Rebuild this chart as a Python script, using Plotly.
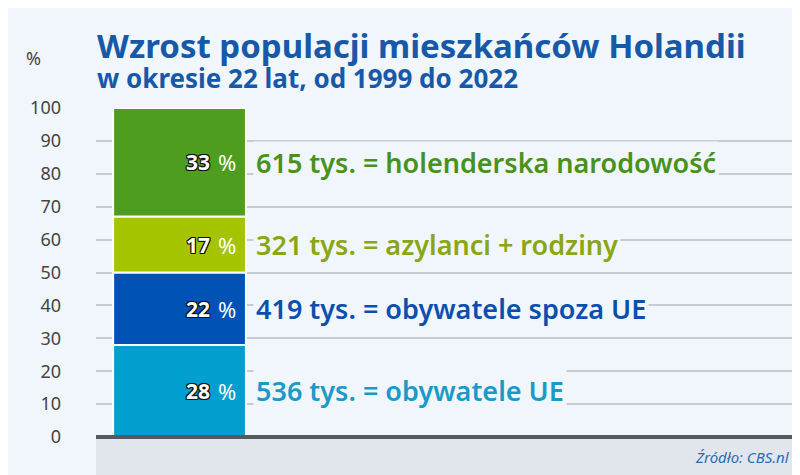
import plotly.graph_objects as go

# dane
kategorie = ["obywatele UE", "obywatele spoza UE", "azylanci + rodziny", "holenderska narodowość"]
procenty = [28, 22, 17, 33]
tysiace = [536, 419, 321, 615]
kolory = ["#009fcd", "#0053b5", "#a5c400", "#4e9d1e"]
kolory_tekstu = ["#1a9ac8", "#0a4fb0", "#8ba514", "#47921c"]
ticki = list(range(0, 101, 10))

# strona ma margines 8 px, więc figura jest o tyle mniejsza
W, H = 792, 467
L, R, T, B = 88, 5, 100, 38
plot_h = H - T - B
plot_w = W - L - R

fig = go.Figure()
dol = 0
for kat, p, kol in zip(kategorie, procenty, kolory):
    fig.add_trace(go.Bar(x=[0.1195], y=[p], base=[dol], width=[0.19], name=kat,
                         marker=dict(color=kol, line=dict(color="white", width=2)),
                         hoverinfo="skip"))
    dol += p

obrys = "1px 1px 0 #111, -1px -1px 0 #111, 1px -1px 0 #111, -1px 1px 0 #111, 0 1px 0 #111, 0 -1px 0 #111, 1px 0 0 #111, -1px 0 0 #111"
ann = []
dol = 0
for p, t, kat, kt in zip(procenty, tysiace, kategorie, kolory_tekstu):
    srodek = dol + p / 2
    ann.append(dict(x=0.166, y=srodek, text=f"<b>{p}</b>", showarrow=False, xanchor="right",
                    font=dict(family="Noto Sans", size=21, color="white", shadow=obrys)))
    ann.append(dict(x=0.172, y=srodek, text="%", showarrow=False, xanchor="left",
                    font=dict(family="Noto Sans", size=22, color="white")))
    ann.append(dict(x=0.224, y=srodek, text=f"{t} tys. = {kat}", showarrow=False, xanchor="left",
                    bgcolor="#f0f6fc", borderpad=2,
                    font=dict(family="Noto Sans", size=27, color=kt, weight=600)))
    dol += p

ann += [
    dict(xref="paper", yref="paper", x=-0.001, y=1 + 63 / plot_h, xanchor="left", yanchor="middle",
         text="<b>Wzrost populacji mieszkańców Holandii</b>", showarrow=False,
         font=dict(family="Noto Sans", size=33, color="#1759a8")),
    dict(xref="paper", yref="paper", x=-0.001, y=1 + 30 / plot_h, xanchor="left", yanchor="middle",
         text="<b>w okresie 22 lat, od 1999 do 2022</b>", showarrow=False,
         font=dict(family="Noto Sans", size=26, color="#1759a8")),
    dict(xref="paper", yref="paper", x=-63 / plot_w, y=1 + 50 / plot_h, xanchor="center", yanchor="middle",
         text="%", showarrow=False, font=dict(family="Noto Sans", size=18, color="#444")),
    dict(xref="paper", yref="paper", x=0.995, y=-20 / plot_h, xanchor="right", yanchor="middle",
         text="<i>Źródło: CBS.nl</i>", showarrow=False,
         font=dict(family="Noto Sans", size=15, color="#2a6bb5")),
]

fig.update_layout(
    width=W, height=H, margin=dict(l=L, r=R, t=T, b=B),
    paper_bgcolor="#f0f6fc", plot_bgcolor="#f0f6fc",
    barmode="overlay", showlegend=False, annotations=ann,
    xaxis=dict(range=[0, 1], visible=False, fixedrange=True),
    yaxis=dict(range=[0, 100], tickvals=ticki, showgrid=True, gridcolor="#c8ccd0", gridwidth=1.5,
               zeroline=False, ticks="", ticklabelstandoff=34,
               tickfont=dict(family="Noto Sans", size=18, color="#444")),
    shapes=[
        dict(type="rect", xref="paper", yref="paper", x0=0, x1=1 + R / plot_w, y0=-B / plot_h, y1=0,
             fillcolor="#e1e6ec", line=dict(width=0), layer="below"),
        dict(type="line", xref="paper", yref="paper", x0=0, x1=1 + R / plot_w, y0=0, y1=0,
             line=dict(color="#555a5e", width=4)),
    ],
)

fig.write_html("out.html")
